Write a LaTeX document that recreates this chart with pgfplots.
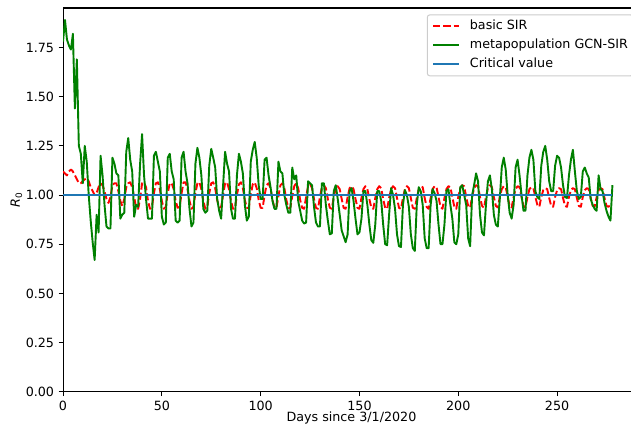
\documentclass[border=0pt]{standalone}
\usepackage{fontspec}
\setmainfont{DejaVu Sans}
\usepackage{pgfplots}
\pgfplotsset{compat=1.18}
\definecolor{mplgreen}{rgb}{0,0.5,0}
\definecolor{tabblue}{HTML}{1F77B4}
\begin{document}
\begin{tikzpicture}
\useasboundingbox (-49.6pt,-25.2pt) rectangle (447pt,308.3pt);
\begin{axis}[
  width=454pt, height=302pt, scale only axis,
  xmin=0, xmax=291.9, ymin=0, ymax=1.951,
  xtick={0,50,100,150,200,250},
  ytick={0,0.25,0.5,0.75,1,1.25,1.5,1.75},
  xtick pos=bottom, ytick pos=left,
  tick align=outside, major tick length=3.5pt,
  tick style={line width=0.8pt, black},
  axis line style={line width=0.8pt},
  /pgf/number format/assume math mode=true,
  yticklabel style={/pgf/number format/.cd, fixed, fixed zerofill, precision=2},
  ticklabel style={font=\fontsize{10}{12}\selectfont},
  xticklabel style={inner sep=0pt, yshift=-3.3pt},
  label style={font=\fontsize{10}{12}\selectfont},
  xlabel={Days since 3/1/2020},
  xlabel style={inner sep=0pt, yshift=-1pt},
  ylabel={\textit{R}\textsubscript{0}},
  ylabel style={yshift=-4pt},
  legend cell align=left,
  legend image code/.code={\draw[#1] (0pt,0pt) -- (20pt,0pt);},
  legend style={at={(1,1)}, anchor=north east, xshift=-5pt, yshift=-5pt,
    draw=black!20, line width=0.8pt, rounded corners=2pt, fill=white,
    fill opacity=0.8, text opacity=1, inner xsep=4pt, inner ysep=4pt,
    row sep=5pt, font=\fontsize{10}{12}\selectfont,
    nodes={inner sep=0pt, text height=7.5pt, text depth=2.5pt},
    /tikz/every odd column/.append style={column sep=8pt}},
]
\addplot[color=red, line width=1.5pt, dash pattern=on 5.55pt off 2.4pt, line join=round] coordinates {
(0,1.12)(1,1.11)(2,1.10)(3,1.12)(4,1.13)(5,1.12)(6,1.10)(7,1.08)(8,1.06)(9,1.06)
(10,1.07)(11,1.08)(12,1.085)(13,1.07)(14,1.04)(15,1.02)(16,1.00)(17,1.01)(18,1.04)(19,1.06)
(20,1.05)(21,1.02)(22,0.98)(23,0.96)(24,0.99)(25,1.05)(26,1.06)(27,1.06)(28,1.02)(29,0.97)
(30,0.945)(31,0.98)(32,1.04)(33,1.06)(34,1.065)(35,1.04)(36,0.99)(37,0.935)(38,0.93)(39,0.98)
(40,1.06)(41,1.065)(42,1.04)(43,0.97)(44,0.93)(45,0.94)
(46,1.01)(47,1.06)(48,1.065)(49,1.03)(50,0.97)(51,0.93)(52,0.94)
(53,1.01)(54,1.06)(55,1.06)(56,1.03)(57,0.97)(58,0.935)(59,0.94)
(60,1.01)(61,1.065)(62,1.065)(63,1.03)(64,0.97)(65,0.93)(66,0.94)
(67,1.01)(68,1.06)(69,1.065)(70,1.03)(71,0.97)(72,0.93)(73,0.94)
(74,1.01)(75,1.06)(76,1.065)(77,1.035)(78,0.975)(79,0.935)(80,0.94)
(81,1.00)(82,1.06)(83,1.065)(84,1.03)(85,0.97)(86,0.93)(87,0.935)
(88,1.00)(89,1.055)(90,1.065)(91,1.035)(92,0.975)(93,0.935)(94,0.935)
(95,1.00)(96,1.055)(97,1.065)(98,1.035)(99,0.975)(100,0.935)(101,0.935)
(102,1.00)(103,1.05)(104,1.06)(105,1.035)(106,0.975)(107,0.935)(108,0.935)
(109,0.995)(110,1.05)(111,1.06)(112,1.035)(113,0.975)(114,0.935)(115,0.935)
(116,0.995)(117,1.045)(118,1.06)(119,1.035)(120,0.975)(121,0.935)(122,0.93)
(123,0.99)(124,1.045)(125,1.055)(126,1.035)(127,0.98)(128,0.935)(129,0.93)
(130,0.99)(131,1.04)(132,1.05)(133,1.035)(134,0.98)(135,0.935)(136,0.93)
(137,0.99)(138,1.035)(139,1.045)(140,1.03)(141,0.98)(142,0.935)(143,0.93)
(144,0.99)(145,1.035)(146,1.045)(147,1.03)(148,0.98)(149,0.935)(150,0.93)
(151,0.985)(152,1.03)(153,1.045)(154,1.03)(155,0.98)(156,0.935)(157,0.93)
(158,0.985)(159,1.03)(160,1.045)(161,1.035)(162,0.98)(163,0.935)(164,0.93)
(165,0.985)(166,1.03)(167,1.045)(168,1.035)(169,0.985)(170,0.935)(171,0.93)
(172,0.985)(173,1.03)(174,1.045)(175,1.035)(176,0.985)(177,0.935)(178,0.93)
(179,0.985)(180,1.03)(181,1.045)(182,1.04)(183,0.985)(184,0.94)(185,0.93)
(186,0.985)(187,1.03)(188,1.045)(189,1.04)(190,0.99)(191,0.94)(192,0.93)
(193,0.985)(194,1.03)(195,1.045)(196,1.04)(197,0.99)(198,0.94)(199,0.93)
(200,0.99)(201,1.035)(202,1.05)(203,1.045)(204,0.99)(205,0.945)(206,0.935)
(207,0.99)(208,1.035)(209,1.05)(210,1.045)(211,0.99)(212,0.945)(213,0.935)
(214,0.99)(215,1.035)(216,1.05)(217,1.04)(218,0.99)(219,0.945)(220,0.937)
(221,0.99)(222,1.03)(223,1.045)(224,1.04)(225,0.99)(226,0.945)(227,0.937)
(228,0.99)(229,1.03)(230,1.045)(231,1.04)(232,0.99)(233,0.945)(234,0.937)
(235,0.99)(236,1.03)(237,1.04)(238,1.035)(239,0.99)(240,0.95)(241,0.94)
(242,0.99)(243,1.025)(244,1.035)(245,1.03)(246,0.985)(247,0.945)(248,0.94)
(249,0.99)(250,1.025)(251,1.035)(252,1.03)(253,0.985)(254,0.945)(255,0.94)
(256,0.99)(257,1.025)(258,1.035)(259,1.03)(260,0.985)(261,0.945)(262,0.94)
(263,0.99)(264,1.025)(265,1.035)(266,1.03)(267,0.985)(268,0.945)(269,0.94)
(270,0.99)(271,1.025)(272,1.035)(273,1.03)(274,0.985)(275,0.945)(276,0.94)
(277,0.95)
};
\addlegendentry{basic SIR}
\addplot[color=mplgreen, line width=1.5pt, line join=round] coordinates {
(0,1.78)(1,1.89)(2,1.79)(3,1.76)(4,1.74)(5,1.82)(6,1.44)(7,1.69)(8,1.25)(9,1.21)
(10,1.06)(11,1.25)(12,1.17)(13,1.00)(14,0.87)(15,0.76)(16,0.67)(17,0.90)(18,0.81)(19,1.20)
(20,1.10)(21,0.95)(22,0.84)(23,0.83)(24,0.83)(25,1.19)(26,1.16)(27,1.11)(28,1.10)(29,0.88)
(30,0.90)(31,0.91)(32,1.22)(33,1.29)(34,1.18)(35,1.12)(36,0.89)(37,0.95)(38,0.94)(39,1.16)
(40,1.31)(41,1.10)(42,0.98)(43,0.88)(44,0.88)(45,0.88)(46,1.20)(47,1.22)(48,1.17)(49,1.12)
(50,0.89)(51,0.85)(52,0.86)(53,1.19)(54,1.21)(55,1.12)(56,1.08)(57,0.87)(58,0.86)(59,0.87)
(60,1.19)(61,1.22)(62,1.12)(63,1.06)(64,0.93)(65,0.84)(66,0.86)(67,1.16)(68,1.24)(69,1.19)
(70,1.10)(71,0.93)(72,0.91)(73,0.92)(74,1.15)(75,1.235)(76,1.19)(77,1.14)(78,0.98)(79,0.92)
(80,0.88)(81,1.05)(82,1.22)(83,1.16)(84,1.12)(85,0.93)(86,0.88)(87,0.88)(88,1.10)(89,1.21)
(90,1.17)(91,1.11)(92,0.95)(93,0.87)(94,0.89)(95,1.17)(96,1.23)(97,1.27)(98,1.19)(99,1.05)
(100,0.98)(101,0.98)(102,1.18)(103,1.19)(104,1.10)(105,1.04)(106,0.97)(107,0.93)(108,0.93)(109,1.17)
(110,1.12)(111,1.11)(112,1.00)(113,0.95)(114,0.91)(115,0.91)(116,1.14)(117,1.08)(118,1.10)(119,0.97)
(120,0.92)(121,0.87)(122,0.855)(123,0.86)(124,1.07)(125,1.06)(126,1.05)(127,0.94)(128,0.86)(129,0.84)
(130,0.84)(131,1.06)(132,1.06)(133,0.95)(134,0.87)(135,0.80)(136,0.805)(137,1.02)(138,1.05)(139,0.98)
(140,0.90)(141,0.82)(142,0.79)(143,0.76)(144,0.80)(145,1.02)(146,1.035)(147,0.97)(148,0.88)(149,0.80)
(150,0.81)(151,0.88)(152,1.02)(153,1.02)(154,0.95)(155,0.85)(156,0.77)(157,0.757)(158,0.85)(159,1.02)
(160,1.02)(161,0.97)(162,0.85)(163,0.75)(164,0.745)(165,0.90)(166,1.035)(167,1.00)(168,0.93)(169,0.80)
(170,0.74)(171,0.736)(172,0.95)(173,1.025)(174,1.00)(175,0.94)(176,0.80)(177,0.73)(178,0.716)(179,0.95)
(180,1.04)(181,1.02)(182,0.95)(183,0.78)(184,0.73)(185,0.73)(186,0.95)(187,1.03)(188,1.01)(189,0.97)
(190,0.85)(191,0.75)(192,0.75)(193,0.85)(194,1.02)(195,1.03)(196,0.95)(197,0.88)(198,0.76)(199,0.75)
(200,0.80)(201,1.04)(202,1.05)(203,1.00)(204,0.95)(205,0.78)(206,0.74)(207,1.00)(208,1.05)(209,1.11)
(210,1.07)(211,0.90)(212,0.81)(213,0.795)(214,0.95)(215,1.07)(216,1.10)(217,1.03)(218,0.90)(219,0.85)
(220,0.84)(221,0.98)(222,1.14)(223,1.19)(224,1.13)(225,1.00)(226,0.91)(227,0.88)(228,0.95)(229,1.14)
(230,1.18)(231,1.10)(232,1.00)(233,0.92)(234,0.92)(235,1.10)(236,1.19)(237,1.23)(238,1.18)(239,1.02)
(240,0.99)(241,0.98)(242,1.15)(243,1.22)(244,1.25)(245,1.18)(246,1.07)(247,1.02)(248,1.02)(249,1.15)
(250,1.20)(251,1.19)(252,1.14)(253,1.05)(254,0.99)(255,0.985)(256,1.10)(257,1.18)(258,1.23)(259,1.12)
(260,1.02)(261,0.98)(262,0.99)(263,1.12)(264,1.14)(265,1.11)(266,1.09)(267,0.98)(268,0.95)(269,0.93)
(270,0.92)(271,1.10)(272,1.03)(273,1.02)(274,0.96)(275,0.92)(276,0.89)(277,0.87)(278,1.05)
};
\addlegendentry{metapopulation GCN-SIR}
\addplot[color=tabblue, line width=1.5pt] coordinates {(0,1) (278,1)};
\addlegendentry{Critical value}
\end{axis}
\end{tikzpicture}
\end{document}
